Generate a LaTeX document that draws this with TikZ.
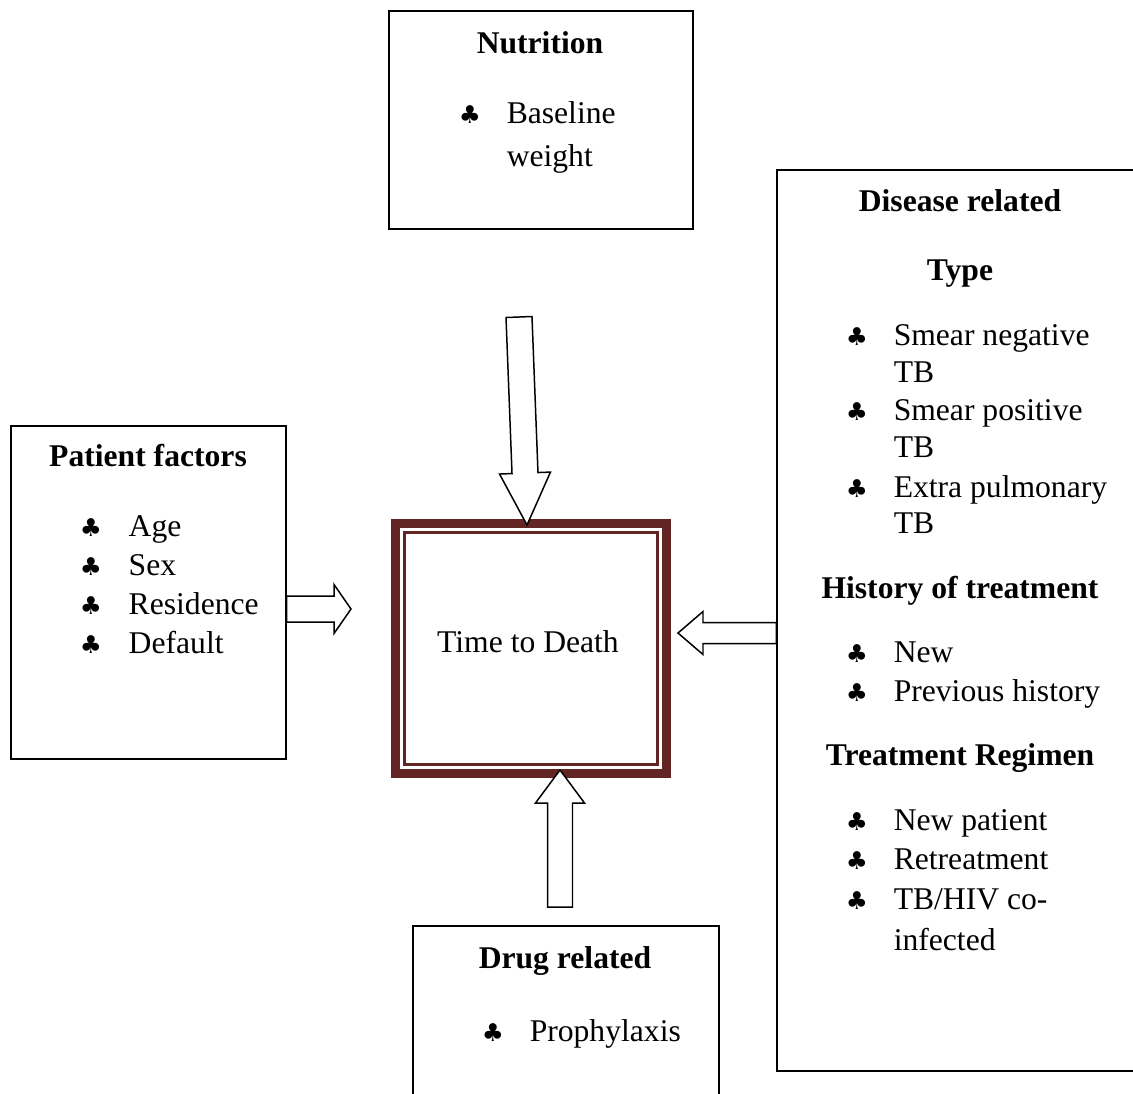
\documentclass[tikz,border=0pt]{standalone}
\usepackage{fontspec}
\setmainfont{Liberation Serif}
\newfontfamily\symfont{DejaVu Sans}
\usetikzlibrary{calc, fit}
\definecolor{cmaroon}{HTML}{632523}
\tikzset{
  every picture/.style={font=\fontsize{18}{22}\selectfont, line width=0.85pt},
  box/.style={draw=black, line width=0.85pt, inner sep=0pt},
  item/.style={anchor=base west, inner sep=0pt},
  title/.style={anchor=base, inner sep=0pt, font=\fontsize{18}{22}\selectfont\bfseries},
  club/.style={anchor=base, inner sep=0pt, font=\symfont\fontsize{14}{16}\selectfont},
  blockarr/.style={draw=black, fill=white, line width=0.85pt, line join=miter},
}
% tail, tip, half shaft, half head, head length
\newcommand{\blockarrow}[5]{%
  \coordinate (#2n) at ($(#2)!#5!(#1)$);
  \draw[blockarr] ($(#1)!#3!90:(#2)$) -- ($(#2n)!#3!-90:(#1)$)
    -- ($(#2n)!#4!-90:(#1)$) -- (#2) -- ($(#2n)!#4!90:(#1)$)
    -- ($(#2n)!#3!90:(#1)$) -- ($(#1)!#3!-90:(#2)$) -- cycle;}

\begin{document}
\begin{tikzpicture}[x=0.02cm, y=-0.02cm]
  \clip (0,0) rectangle (1133,1093);
  % boxes
  \node[box, fit={(389,11) (693,229)}] (nutr) {};
  \node[box, fit={(11,426) (286,759)}] (patient) {};
  \node[box, fit={(777,170) (1150,1071)}] (disease) {};
  \node[box, fit={(413,926) (719,1110)}] (drug) {};
  \node[draw=cmaroon, line width=0.18cm, outer sep=0pt, minimum width=5.42cm, minimum height=5cm, inner sep=0pt] (ttd) at (531,648.5) {};
  \draw[cmaroon, line width=0.05cm] ($(ttd.south west)+(9,-9)$) rectangle ($(ttd.north east)+(-9,9)$);
  \node[anchor=base, inner sep=0pt] (ttdl) at (528,652) {Time to Death};

  % nutrition
  \node[title] (nutrt) at (540,53) {Nutrition};
  \node[club] (nutrc) at (470,123) {♣};
  \node[item] (nutr1) at (506,123) {Baseline};
  \node[item] (nutr2) at (506,166) {weight};

  % patient factors
  \node[title] (patt) at (148,466) {Patient factors};
  \foreach \txt [count=\i] in {Age, Sex, Residence, Default} {
    \node[club] (patc\i) at (91,497+39*\i) {♣};
    \node[item] (pat\i) at (128,497+39*\i) {\txt};
  }

  % disease related
  \node[title] (dist) at (960,211) {Disease related};
  \node[title] (typet) at (960,280) {Type};
  \node[club] (typec1) at (857,345) {♣};
  \node[item] (type1) at (893,345) {Smear negative};
  \node[item] (type1b) at (893,382) {TB};
  \node[club] (typec2) at (857,420) {♣};
  \node[item] (type2) at (893,420) {Smear positive};
  \node[item] (type2b) at (893,457) {TB};
  \node[club] (typec3) at (857,497) {♣};
  \node[item] (type3) at (893,497) {Extra pulmonary};
  \node[item] (type3b) at (893,533) {TB};
  \node[title] (histt) at (960,598) {History of treatment};
  \node[club] (histc1) at (857,662) {♣};
  \node[item] (hist1) at (893,662) {New};
  \node[club] (histc2) at (857,701) {♣};
  \node[item] (hist2) at (893,701) {Previous history};
  \node[title] (regt) at (960,765) {Treatment Regimen};
  \node[club] (regc1) at (857,830) {♣};
  \node[item] (reg1) at (893,830) {New patient};
  \node[club] (regc2) at (857,869) {♣};
  \node[item] (reg2) at (893,869) {Retreatment};
  \node[club] (regc3) at (857,909) {♣};
  \node[item] (reg3) at (893,909) {TB/HIV co-};
  \node[item] (reg3b) at (893,950) {infected};

  % drug related
  \node[title] (drugt) at (565,968) {Drug related};
  \node[club] (drugc) at (493,1041) {♣};
  \node[item] (drug1) at (529,1041) {Prophylaxis};

  % block arrows into the outcome
  \coordinate (ntail) at (519,317);
  \coordinate (ntip) at (527,525);
  \coordinate (ptail) at (patient.east |- 0,609);
  \coordinate (ptip) at (351,609);
  \coordinate (dtail) at (disease.west |- 0,633);
  \coordinate (dtip) at (678,633);
  \coordinate (gtail) at (560,907);
  \coordinate (gtip) at (560,770);
  \blockarrow{ntail}{ntip}{0.26cm}{0.51cm}{1.04cm}
  \blockarrow{ptail}{ptip}{0.26cm}{0.49cm}{0.34cm}
  \blockarrow{dtail}{dtip}{0.21cm}{0.43cm}{0.5cm}
  \blockarrow{gtail}{gtip}{0.25cm}{0.49cm}{0.66cm}
\end{tikzpicture}
\end{document}
